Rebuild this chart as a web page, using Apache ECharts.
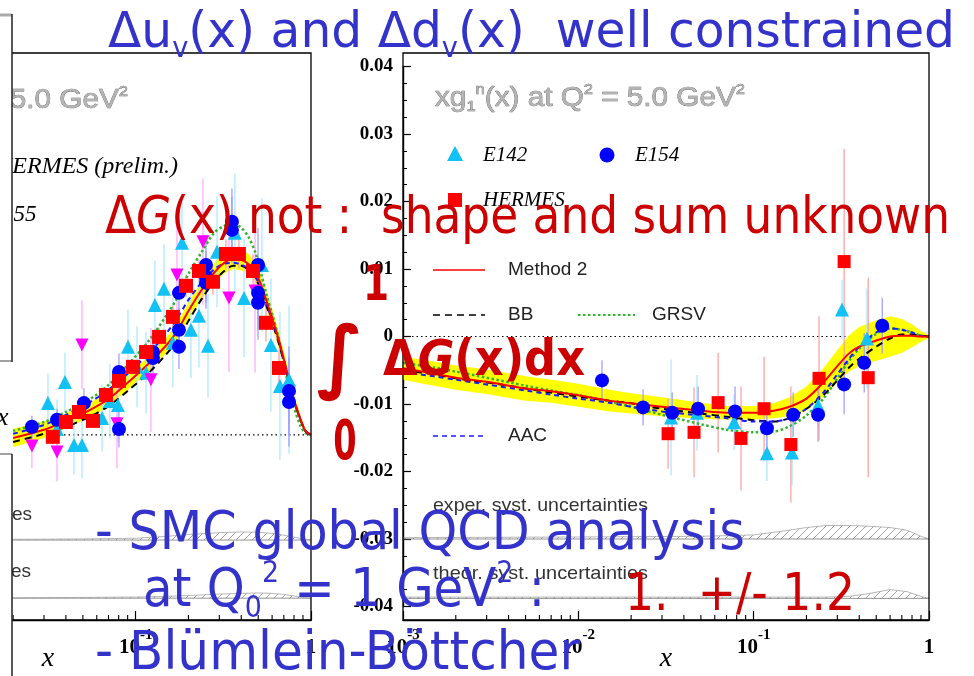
<!DOCTYPE html>
<html>
<head>
<meta charset="utf-8">
<title>xg1 at Q2 = 5 GeV2 — polarized PDF fits</title>
<script src="https://cdn.jsdelivr.net/npm/echarts@6/dist/echarts.min.js"></script>
<style>
  html, body { margin: 0; padding: 0; background: #fff; }
  #chart { width: 974px; height: 676px; }
</style>
</head>
<body>
<div id="chart"></div>
<script>
/* ================= proton panel: xg1^p(x) at Q^2 = 5.0 GeV^2 ================= */
const pCurveX  = [0.02, 0.03, 0.04, 0.055, 0.07, 0.09, 0.12, 0.15, 0.17, 0.2, 0.24, 0.28, 0.32, 0.36, 0.4, 0.44, 0.48, 0.52, 0.56, 0.6, 0.66, 0.73, 0.8, 0.87, 0.93, 1.0];
const pMethod2 = [-0.0008, 0.0014, 0.0038, 0.0068, 0.0097, 0.0141, 0.0195, 0.0243, 0.0276, 0.0335, 0.0395, 0.0438, 0.0465, 0.0476, 0.0473, 0.0462, 0.0441, 0.0405, 0.0359, 0.0316, 0.0251, 0.017, 0.0095, 0.0043, 0.0011, 0];
const pBB      = [-0.0019, 0.0003, 0.0022, 0.005, 0.0078, 0.0119, 0.017, 0.0219, 0.0251, 0.0308, 0.037, 0.0414, 0.0443, 0.0457, 0.0457, 0.0446, 0.0424, 0.039, 0.0346, 0.0305, 0.0243, 0.0165, 0.0092, 0.0042, 0.001, 0];
const pAAC     = [0.0003, 0.0027, 0.0054, 0.0089, 0.0122, 0.0165, 0.0222, 0.0276, 0.031, 0.0365, 0.0415, 0.0447, 0.0463, 0.0465, 0.046, 0.0449, 0.0428, 0.0395, 0.0351, 0.031, 0.0247, 0.0168, 0.0094, 0.0043, 0.0011, 0];
const pGRSV    = [0.0011, 0.0035, 0.0062, 0.0097, 0.0135, 0.0189, 0.0257, 0.0324, 0.0365, 0.0435, 0.0497, 0.0546, 0.0565, 0.057, 0.056, 0.0535, 0.0495, 0.0435, 0.0376, 0.0327, 0.0254, 0.0151, 0.0076, 0.0025, 0.0005, 0];
const pErrHalf = [0.0025, 0.0022, 0.002, 0.002, 0.002, 0.002, 0.002, 0.0021, 0.0022, 0.0023, 0.0025, 0.0027, 0.0028, 0.0028, 0.0028, 0.0027, 0.0027, 0.0026, 0.0025, 0.0024, 0.0022, 0.0019, 0.0015, 0.001, 0.0005, 0.0001];

const pHermesX   = [0.0337, 0.040, 0.0475, 0.0571, 0.0677, 0.0803, 0.0966, 0.1146, 0.136, 0.163, 0.1937, 0.2296, 0.276, 0.3273, 0.388, 0.4667, 0.5535, 0.656];
const pHermesY   = [-0.0005, 0.0035, 0.0062, 0.0038, 0.0108, 0.0146, 0.0184, 0.0224, 0.0265, 0.0319, 0.0403, 0.0443, 0.0414, 0.0489, 0.0489, 0.0443, 0.0303, 0.0181];
const pHermesErr = [0.002, 0.002, 0.002, 0.002, 0.002, 0.002, 0.002, 0.0025, 0.0025, 0.003, 0.003, 0.003, 0.0035, 0.004, 0.004, 0.0045, 0.005, 0.005];

const pE155X   = [0.0256, 0.0356, 0.0507, 0.0803, 0.0803, 0.1255, 0.1255, 0.1766, 0.1766, 0.1766, 0.2518, 0.2518, 0.2518, 0.354, 0.354, 0.4986, 0.4986, 0.4986, 0.749, 0.749];
const pE155Y   = [0.0022, 0.0041, 0.0086, 0.017, 0.0016, 0.0224, 0.0208, 0.0384, 0.0284, 0.0238, 0.0459, 0.0427, 0.0411, 0.0576, 0.0554, 0.0459, 0.0384, 0.0357, 0.0119, 0.0089];
const pE155Err = [0.003, 0.003, 0.004, 0.005, 0.005, 0.005, 0.005, 0.006, 0.006, 0.006, 0.007, 0.007, 0.007, 0.009, 0.009, 0.01, 0.01, 0.01, 0.012, 0.012];

const pE143X   = [0.0316, 0.0356, 0.0395, 0.0445, 0.0494, 0.0643, 0.0713, 0.0792, 0.0904, 0.1017, 0.1146, 0.1288, 0.145, 0.163, 0.1837, 0.2066, 0.2296, 0.2585, 0.291, 0.368, 0.415, 0.525, 0.591, 0.665, 0.749];
const pE143Y   = [0.0086, 0.0016, 0.0143, -0.0027, -0.0027, 0.0046, 0.0092, 0.0081, 0.0238, 0.0184, 0.0168, 0.0351, 0.0395, 0.0249, 0.0519, 0.0284, 0.0322, 0.0241, 0.0495, 0.0546, 0.037, 0.0459, 0.0243, 0.0132, 0.0149];
const pE143Err = [0.008, 0.008, 0.008, 0.008, 0.009, 0.009, 0.01, 0.01, 0.01, 0.011, 0.011, 0.012, 0.012, 0.012, 0.013, 0.013, 0.014, 0.014, 0.015, 0.016, 0.016, 0.018, 0.018, 0.02, 0.02];

const pSMCX   = [0.0256, 0.0356, 0.0494, 0.0782, 0.1222, 0.172, 0.242, 0.3404, 0.4797];
const pSMCY   = [-0.003, -0.0046, 0.0243, 0.003, 0.0149, 0.0432, 0.0522, 0.037, 0.0389];
const pSMCErr = [0.006, 0.008, 0.012, 0.012, 0.014, 0.015, 0.017, 0.02, 0.022];

const pSystX      = [0.02, 0.05, 0.1, 0.15, 0.2, 0.3, 0.4, 0.5, 0.6, 0.7, 0.8, 0.9, 1.0];
const pExpBase    = -0.0284;
const pExpUpper   = [-0.0282, -0.0281, -0.0279, -0.0274, -0.0269, -0.0264, -0.0262, -0.0263, -0.0266, -0.0271, -0.0276, -0.0281, -0.0284];
const pTheoBase   = -0.0441;
const pTheoUpper  = [-0.044, -0.0439, -0.0438, -0.0436, -0.0434, -0.043, -0.0428, -0.0427, -0.0428, -0.0431, -0.0435, -0.0439, -0.0441];

/* ================= neutron panel: xg1^n(x) at Q^2 = 5.0 GeV^2 ================= */
const nCurveX  = [0.001, 0.0015, 0.002, 0.003, 0.005, 0.007, 0.01, 0.015, 0.02, 0.03, 0.05, 0.07, 0.1, 0.13, 0.16, 0.2, 0.25, 0.3, 0.35, 0.4, 0.5, 0.6, 0.7, 0.8, 0.9, 1.0];
const nMethod2 = [-0.0047, -0.0055, -0.0061, -0.0067, -0.0077, -0.0081, -0.0087, -0.0095, -0.0099, -0.0104, -0.011, -0.0113, -0.0113, -0.011, -0.0104, -0.0092, -0.0068, -0.0044, -0.0025, -0.0015, -0.0006, 0, 0.0001, 0.0001, 0, 0];
const nBB      = [-0.005, -0.0056, -0.0062, -0.0068, -0.0077, -0.0083, -0.0089, -0.0095, -0.0099, -0.0107, -0.0114, -0.0119, -0.0124, -0.0126, -0.0121, -0.0107, -0.0087, -0.0065, -0.0046, -0.0033, -0.0015, -0.0003, 0.0003, 0.0003, 0.0001, 0];
const nAAC     = [-0.0053, -0.0059, -0.0064, -0.0071, -0.008, -0.0086, -0.0092, -0.0098, -0.0104, -0.0111, -0.0117, -0.0121, -0.0126, -0.0126, -0.0121, -0.0107, -0.0083, -0.0056, -0.0033, -0.0015, 0.0006, 0.0012, 0.001, 0.0006, 0.0001, 0];
const nGRSV    = [-0.0039, -0.0046, -0.0052, -0.0061, -0.0073, -0.008, -0.0087, -0.0096, -0.0104, -0.0116, -0.013, -0.0138, -0.0142, -0.0141, -0.0133, -0.0117, -0.0092, -0.0062, -0.0036, -0.0018, 0.0004, 0.0012, 0.001, 0.0006, 0.0001, 0];
const nErrHalf = [0.0017, 0.0018, 0.0018, 0.0018, 0.0018, 0.0017, 0.0017, 0.0016, 0.0015, 0.0014, 0.0012, 0.001, 0.001, 0.0011, 0.0014, 0.0018, 0.0021, 0.0024, 0.0027, 0.0029, 0.003, 0.003, 0.0025, 0.0017, 0.0008, 0.0002];

const nHermesX   = [0.0325, 0.0457, 0.0627, 0.0847, 0.1146, 0.163, 0.236, 0.328, 0.45];
const nHermesY   = [-0.0144, -0.0142, -0.0098, -0.0151, -0.0107, -0.016, -0.0062, 0.0111, -0.0061];
const nHermesErr = [0.0052, 0.0067, 0.0074, 0.0077, 0.0077, 0.0086, 0.0092, 0.0167, 0.0148];

const nE154X   = [0.01364, 0.0234, 0.0343, 0.0482, 0.0783, 0.119, 0.168, 0.233, 0.328, 0.427, 0.541];
const nE154Y   = [-0.0065, -0.0105, -0.0113, -0.0107, -0.0111, -0.0136, -0.0116, -0.0116, -0.0071, -0.0039, 0.0016];
const nE154Err = [0.003, 0.0027, 0.003, 0.0033, 0.0037, 0.0037, 0.0033, 0.004, 0.0044, 0.0044, 0.0041];

const nE142X   = [0.0338, 0.0475, 0.0773, 0.119, 0.1655, 0.233, 0.319, 0.443];
const nE142Y   = [-0.012, -0.0113, -0.0127, -0.0173, -0.0172, -0.0102, 0.004, -0.0003];
const nE142Err = [0.0086, 0.0056, 0.0041, 0.0041, 0.0049, 0.0033, 0.0044, 0.0074];

const nSystX      = [0.001, 0.01, 0.05, 0.1, 0.15, 0.2, 0.26, 0.35, 0.45, 0.6, 0.75, 0.9, 1.0];
const nExpBase    = -0.03;
const nExpUpper   = [-0.0298, -0.0297, -0.0296, -0.0294, -0.0288, -0.0283, -0.028, -0.028, -0.0281, -0.0283, -0.0287, -0.0296, -0.03];
const nTheoBase   = -0.0388;
const nTheoUpper  = [-0.0386, -0.0386, -0.0386, -0.0386, -0.0386, -0.0386, -0.0386, -0.0385, -0.0381, -0.0375, -0.0378, -0.0385, -0.0388];

/* axis ranges */
const xRange = [0.001, 1];
const nYRange = [-0.04, 0.04];
const nYStep = 0.01;
const pYRange = [-0.05, 0.1032];

/* ================= styling ================= */
const COL = {
  method2: '#ff0000', bb: '#000000', grsv: '#2fb52f', aac: '#1a1aff', band: '#ffff00',
  cyan: '#12c2f5', blue: '#0000ff', red: '#ff0000', magenta: '#ff00ff',
  cyanErr: '#a6e8ff', blueErr: '#9a9aff', redErr: '#ff9c9c', magentaErr: '#ffa6ff'
};
const SERIF = '"Liberation Serif", "Times New Roman", serif';
const SANS = '"Liberation Sans", Arial, sans-serif';
const HAND = '"DejaVu Sans", "Noto Sans", sans-serif';
const X_OFFSET_N = 13.5;   // neutron x-axis sits below its plotting area

// diagonal hatching for the systematic-uncertainty bands
const hatch = document.createElement('canvas');
hatch.width = 8; hatch.height = 8;
(function () {
  const c = hatch.getContext('2d');
  c.strokeStyle = '#8a8a8a'; c.lineWidth = 0.8;
  c.beginPath(); c.moveTo(0, 8); c.lineTo(8, 0); c.stroke();
})();

function pairs(X, Y) { return X.map((x, i) => [x, Y[i]]); }

function curve(ax, X, Y, color, type, width, z) {
  return { type: 'line', xAxisIndex: ax, yAxisIndex: ax, data: pairs(X, Y), symbol: 'none', smooth: 0.3,
           silent: true, z: z || 3, lineStyle: { color, type, width } };
}

// filled region between two boundaries, drawn once through the axis scales
function region(ax, X, lower, upper, fill, z) {
  return {
    type: 'custom', xAxisIndex: ax, yAxisIndex: ax, silent: true, z: z || 1,
    data: X.map((x, i) => [x, lower[i], upper[i]]), encode: { x: 0, y: [1, 2] },
    renderItem(params, api) {
      if (params.dataIndexInside !== 0) return null;
      const n = params.dataInsideLength, top = [], bot = [];
      for (let i = 0; i < n; i++) {
        const x = api.value(0, i);
        top.push(api.coord([x, api.value(2, i)]));
        bot.push(api.coord([x, api.value(1, i)]));
      }
      return { type: 'polygon', shape: { points: top.concat(bot.reverse()) }, style: { fill } };
    }
  };
}

function band(ax, X, M, H) {
  return region(ax, X, X.map((x, i) => M[i] - H[i]), X.map((x, i) => M[i] + H[i]), COL.band, 1);
}

function systBand(ax, X, base, upper) {
  const b = X.map(() => base);
  return [
    region(ax, X, b, upper, { image: hatch, repeat: 'repeat' }, 1),
    { type: 'line', xAxisIndex: ax, yAxisIndex: ax, symbol: 'none', silent: true, z: 1,
      lineStyle: { color: '#777', width: 0.8 }, data: [[xRange[0], base], [xRange[1], base]] },
    { type: 'line', xAxisIndex: ax, yAxisIndex: ax, symbol: 'none', silent: true, z: 1,
      lineStyle: { color: '#999', width: 0.7 }, data: pairs(X, upper) }
  ];
}

function zeroLine(ax) {
  return { type: 'line', xAxisIndex: ax, yAxisIndex: ax, symbol: 'none', silent: true, z: 0,
           data: [[xRange[0], 0], [xRange[1], 0]], lineStyle: { color: '#000', type: [1.5, 3], width: 1.2 } };
}

function errorBars(ax, X, Y, E, color) {
  return {
    type: 'custom', xAxisIndex: ax, yAxisIndex: ax, silent: true, z: 2,
    data: X.map((x, i) => [x, Y[i], E[i]]), encode: { x: 0, y: 1 },
    renderItem(params, api) {
      const x = api.value(0), y = api.value(1), e = api.value(2);
      const a = api.coord([x, y - e]), b = api.coord([x, y + e]);
      return { type: 'line', shape: { x1: a[0], y1: a[1], x2: b[0], y2: b[1] },
               style: { stroke: color, lineWidth: 1.2 } };
    }
  };
}

function points(ax, X, Y, symbol, color, size, rotate) {
  return { type: 'scatter', xAxisIndex: ax, yAxisIndex: ax, data: pairs(X, Y), symbol, symbolSize: size,
           symbolRotate: rotate || 0, silent: true, z: 4, itemStyle: { color, opacity: 1 } };
}

// log-decade minor ticks (2..9 in each decade) along the bottom axis
const minorLogX = [];
for (let d = -3; d < 0; d++) for (let m = 2; m <= 9; m++) minorLogX.push(+(m * Math.pow(10, d)).toPrecision(3));

function minorTicks(ax, offset) {
  return {
    type: 'custom', xAxisIndex: ax, yAxisIndex: ax, silent: true, z: 5, clip: false,
    data: minorLogX.map(x => [x, 0]), encode: { x: 0, y: 1 },
    renderItem(params, api) {
      const p = api.coord([api.value(0), 0]);
      const yb = params.coordSys.y + params.coordSys.height + offset;
      return { type: 'line', shape: { x1: p[0], y1: yb, x2: p[0], y2: yb - 5 },
               style: { stroke: '#000', lineWidth: 1.1 } };
    }
  };
}

function logAxis(gridIndex, offset) {
  return {
    type: 'log', logBase: 10, gridIndex, min: xRange[0], max: xRange[1], offset, position: 'bottom',
    name: 'x', nameLocation: 'middle', nameGap: 25, nameMoveOverlap: false,
    nameTextStyle: { fontFamily: SERIF, fontStyle: 'italic', fontSize: 28, color: '#000' },
    axisLine: { show: true, onZero: false, lineStyle: { color: '#000', width: 1.4 } },
    axisTick: { show: true, inside: true, length: 9, lineStyle: { color: '#000', width: 1.2 } },
    splitLine: { show: false },
    axisLabel: {
      margin: 8,
      formatter: v => {
        const e = Math.round(Math.log10(v));
        return e === 0 ? '{b|1}' : '{b|10}{s|-' + Math.abs(e) + '}';
      },
      rich: {
        b: { fontFamily: SERIF, fontWeight: 'bold', fontSize: 21, lineHeight: 40, color: '#000' },
        s: { fontFamily: SERIF, fontWeight: 'bold', fontSize: 15, lineHeight: 16, verticalAlign: 'top', color: '#000' }
      }
    }
  };
}

/* ================= text helpers ================= */
const measureCtx = document.createElement('canvas').getContext('2d');

function tokenStyles(F, fill, weight, family, stroke) {
  const base = { fontFamily: family, fontWeight: weight, fill };
  if (stroke) { base.stroke = stroke; base.lineWidth = 0.6; }
  const small = Math.round(F * 0.55);
  return {
    m:   Object.assign({}, base, { fontSize: F, lineHeight: Math.round(F * 1.2) }),
    i:   Object.assign({}, base, { fontSize: F, lineHeight: Math.round(F * 1.2), fontStyle: 'italic' }),
    sub: Object.assign({}, base, { fontSize: small, lineHeight: small, verticalAlign: 'bottom' }),
    sup: Object.assign({}, base, { fontSize: small, lineHeight: small, verticalAlign: 'top' })
  };
}

function widthOf(tokens, rich) {
  let w = 0;
  tokens.forEach(([k, s]) => {
    const st = rich[k];
    measureCtx.font = (st.fontStyle || 'normal') + ' ' + (st.fontWeight || 'normal') + ' ' + st.fontSize + 'px ' + st.fontFamily;
    w += measureCtx.measureText(s).width;
  });
  return w;
}

// text stretched to span [left, right] with its baseline at `baseline`
function fitted(o) {
  const rich = tokenStyles(o.size, o.color, o.weight || 'normal', o.family || HAND, o.stroke);
  const text = o.tokens.map(t => '{' + t[0] + '|' + t[1] + '}').join('');
  const w = widthOf(o.tokens, rich);
  return { type: 'text', x: o.left, y: o.baseline - 0.32 * o.size, scaleX: (o.right - o.left) / w,
           z: o.z || 100, silent: true, style: { text, rich, align: 'left', verticalAlign: 'middle' } };
}

function glyph(o) {
  return { type: 'text', x: o.cx, y: o.cy, scaleX: o.sx || 1, z: 100, silent: true,
           style: { text: o.text, fill: o.color, align: 'center', verticalAlign: 'middle',
                    font: (o.weight || 'normal') + ' ' + o.size + 'px ' + HAND } };
}

function label(x, y, text, font, align, fill) {
  return { type: 'text', x, y, z: 10, silent: true,
           style: { text, font, fill: fill || '#000', align: align || 'left', verticalAlign: 'middle' } };
}

function seg(x1, y1, x2, y2, stroke, width, dash, z) {
  return { type: 'line', z: z || 10, silent: true, shape: { x1, y1, x2, y2 },
           style: { stroke, lineWidth: width, lineDash: dash || null } };
}

/* ================= series ================= */
const series = [
  // proton panel (axis index 0)
  zeroLine(0),
  band(0, pCurveX, pMethod2, pErrHalf),
  ...systBand(0, pSystX, pExpBase, pExpUpper),
  ...systBand(0, pSystX, pTheoBase, pTheoUpper),
  errorBars(0, pE143X, pE143Y, pE143Err, COL.cyanErr),
  errorBars(0, pSMCX, pSMCY, pSMCErr, COL.magentaErr),
  errorBars(0, pE155X, pE155Y, pE155Err, COL.blueErr),
  errorBars(0, pHermesX, pHermesY, pHermesErr, COL.redErr),
  curve(0, pCurveX, pGRSV, COL.grsv, [2.5, 2.5], 2.5),
  curve(0, pCurveX, pBB, COL.bb, [7, 5], 2),
  curve(0, pCurveX, pAAC, COL.aac, [5, 4], 2),
  curve(0, pCurveX, pMethod2, COL.method2, 'solid', 2),
  points(0, pE143X, pE143Y, 'triangle', COL.cyan, 14),
  points(0, pSMCX, pSMCY, 'triangle', COL.magenta, 13, 180),
  points(0, pE155X, pE155Y, 'circle', COL.blue, 14),
  points(0, pHermesX, pHermesY, 'rect', COL.red, 14),
  minorTicks(0, 0),

  // neutron panel (axis index 1)
  zeroLine(1),
  band(1, nCurveX, nMethod2, nErrHalf),
  ...systBand(1, nSystX, nExpBase, nExpUpper),
  ...systBand(1, nSystX, nTheoBase, nTheoUpper),
  errorBars(1, nE142X, nE142Y, nE142Err, COL.cyanErr),
  errorBars(1, nE154X, nE154Y, nE154Err, COL.blueErr),
  errorBars(1, nHermesX, nHermesY, nHermesErr, COL.redErr),
  curve(1, nCurveX, nGRSV, COL.grsv, [2.5, 2.5], 2.5),
  curve(1, nCurveX, nBB, COL.bb, [7, 5], 2),
  curve(1, nCurveX, nAAC, COL.aac, [5, 4], 2),
  curve(1, nCurveX, nMethod2, COL.method2, 'solid', 2),
  points(1, nE142X, nE142Y, 'triangle', COL.cyan, 14),
  points(1, nE154X, nE154Y, 'circle', COL.blue, 14),
  points(1, nHermesX, nHermesY, 'rect', COL.red, 13),
  minorTicks(1, X_OFFSET_N)
];

/* ================= decorations: frames, legends, captions ================= */
const LEG_I = 'italic 21px ' + SERIF;
const LEG_S = '19px ' + SANS;

const decor = [
  // plot frames
  { type: 'rect', z: 6, silent: true, shape: { x: -215, y: 53, width: 526, height: 567 },
    style: { fill: 'none', stroke: '#000', lineWidth: 1.3 } },
  { type: 'rect', z: 6, silent: true, shape: { x: 403, y: 53, width: 526, height: 567 },
    style: { fill: 'none', stroke: '#000', lineWidth: 1.3 } },

  // neutron legend
  { type: 'polygon', z: 10, silent: true, shape: { points: [[455, 146], [447, 161], [463, 161]] }, style: { fill: COL.cyan } },
  label(483, 155, 'E142', LEG_I),
  { type: 'circle', z: 10, silent: true, shape: { cx: 607, cy: 155, r: 7.5 }, style: { fill: COL.blue } },
  label(635, 155, 'E154', LEG_I),
  { type: 'rect', z: 10, silent: true, shape: { x: 448, y: 193, width: 14, height: 14 }, style: { fill: COL.red } },
  label(483, 200, 'HERMES', LEG_I),
  seg(433, 270, 485, 270, COL.method2, 1.6),
  label(508, 270, 'Method 2', LEG_S, 'left', '#222'),
  seg(433, 315, 485, 315, COL.bb, 1.6, [7, 5]),
  label(508, 315, 'BB', LEG_S, 'left', '#222'),
  seg(578, 315, 635, 315, COL.grsv, 2.2, [2.5, 2.5]),
  label(652, 315, 'GRSV', LEG_S, 'left', '#222'),
  seg(433, 436, 485, 436, COL.aac, 1.6, [5, 4]),
  label(508, 436, 'AAC', LEG_S, 'left', '#222'),
  fitted({ tokens: [['m', 'exper. syst. uncertainties']], size: 19, color: '#333', family: SANS, left: 433, right: 648, baseline: 512, z: 10 }),
  fitted({ tokens: [['m', 'theor. syst. uncertainties']], size: 19, color: '#333', family: SANS, left: 433, right: 648, baseline: 580, z: 10 }),
  fitted({ tokens: [['m', 'xg'], ['sub', '1'], ['sup', 'n'], ['m', '(x) at Q'], ['sup', '2'], ['m', ' = 5.0 GeV'], ['sup', '2']],
           size: 27, color: '#b4b4b4', stroke: '#5a5a5a', family: SANS, left: 435, right: 745, baseline: 107, z: 10 }),

  // proton legend / captions (left part lies outside the visible area)
  fitted({ tokens: [['m', 'xg'], ['sub', '1'], ['sup', 'p'], ['m', '(x) at Q'], ['sup', '2'], ['m', ' = 5.0 GeV'], ['sup', '2']],
           size: 27, color: '#b4b4b4', stroke: '#5a5a5a', family: SANS, left: -182, right: 128, baseline: 109, z: 10 }),
  label(-5, 167, 'HERMES (prelim.)', 'italic 24px ' + SERIF),
  label(-12, 215, 'E155', 'italic 23px ' + SERIF),
  label(32, 515, 'exper. syst. uncertainties', '19px ' + SANS, 'right', '#333'),
  label(31, 572, 'theor. syst. uncertainties', '19px ' + SANS, 'right', '#333'),

  // neighbouring panel edge on the far left
  { type: 'rect', z: 50, silent: true, shape: { x: -20, y: 0, width: 32, height: 676 }, style: { fill: '#fff' } },
  seg(0, 15, 12, 15, '#aaa', 3, null, 51),
  seg(12, 14, 12, 362, '#222', 1.5, null, 51),
  seg(0, 361, 12, 361, '#444', 1, null, 51),
  { type: 'text', x: -3, y: 418, z: 51, silent: true, style: { text: 'x', font: 'italic 26px ' + SERIF, fill: '#000', verticalAlign: 'middle' } },
  seg(0, 454, 12, 454, '#444', 1, null, 51),
  seg(12, 454, 12, 676, '#222', 1.5, null, 51),

  // slide annotations
  fitted({ tokens: [['m', 'Δu'], ['sub', 'v'], ['m', '(x) and Δd'], ['sub', 'v'], ['m', '(x)  well constrained']],
           size: 50, color: '#3333cc', left: 108, right: 955, baseline: 50 }),
  fitted({ tokens: [['m', 'Δ'], ['i', 'G'], ['m', '(x) not :  shape and sum unknown']],
           size: 52, color: '#cc0000', left: 105, right: 950, baseline: 236 }),
  glyph({ text: '1', cx: 376, cy: 287, size: 50, color: '#cc0000', weight: 'bold', sx: 0.75 }),
  glyph({ text: '∫', cx: 340, cy: 362, size: 80, color: '#cc0000', weight: 'bold', sx: 0.95 }),
  fitted({ tokens: [['m', 'Δ'], ['i', 'G'], ['m', '(x)dx']],
           size: 50, color: '#cc0000', weight: 'bold', left: 383, right: 585, baseline: 378 }),
  glyph({ text: '0', cx: 345, cy: 444, size: 56, color: '#cc0000', weight: 'bold', sx: 0.6 }),
  fitted({ tokens: [['m', '- SMC global QCD analysis']], size: 54, color: '#3333cc', left: 95, right: 745, baseline: 552 }),
  fitted({ tokens: [['m', 'at Q'], ['sub', '0'], ['sup', '2'], ['m', ' = 1 GeV'], ['sup', '2'], ['m', ' :']],
           size: 54, color: '#3333cc', left: 143, right: 545, baseline: 609 }),
  fitted({ tokens: [['m', '1.  +/- 1.2']], size: 52, color: '#cc0000', left: 625, right: 855, baseline: 613 }),
  fitted({ tokens: [['m', '- Blümlein-Böttcher']], size: 54, color: '#3333cc', left: 95, right: 580, baseline: 672 })
];

/* ================= chart ================= */
const chart = echarts.init(document.getElementById('chart'), null, { renderer: 'canvas' });
chart.setOption({
  animation: false,
  backgroundColor: '#ffffff',
  grid: [
    { left: -215, top: 53, width: 526, height: 567, containLabel: false, outerBoundsMode: 'none' },
    { left: 403, top: 66.5, width: 526, height: 540, containLabel: false, outerBoundsMode: 'none' }
  ],
  xAxis: [logAxis(0, 0), logAxis(1, X_OFFSET_N)],
  yAxis: [
    { gridIndex: 0, type: 'value', min: pYRange[0], max: pYRange[1], show: false },
    {
      gridIndex: 1, type: 'value', min: nYRange[0], max: nYRange[1], interval: nYStep,
      axisLine: { show: true, onZero: false, lineStyle: { color: '#000', width: 1.4 } },
      axisTick: { show: true, inside: true, length: 8, lineStyle: { color: '#000', width: 1.2 } },
      minorTick: { show: true, splitNumber: 4, length: 4, lineStyle: { color: '#000', width: 1 } },
      splitLine: { show: false },
      axisLabel: { margin: 10, fontFamily: SERIF, fontWeight: 'bold', fontSize: 19, color: '#000',
                   formatter: v => Math.abs(v) < 1e-9 ? '0' : v.toFixed(2) }
    }
  ],
  series,
  graphic: { elements: decor }
});
</script>
</body>
</html>
